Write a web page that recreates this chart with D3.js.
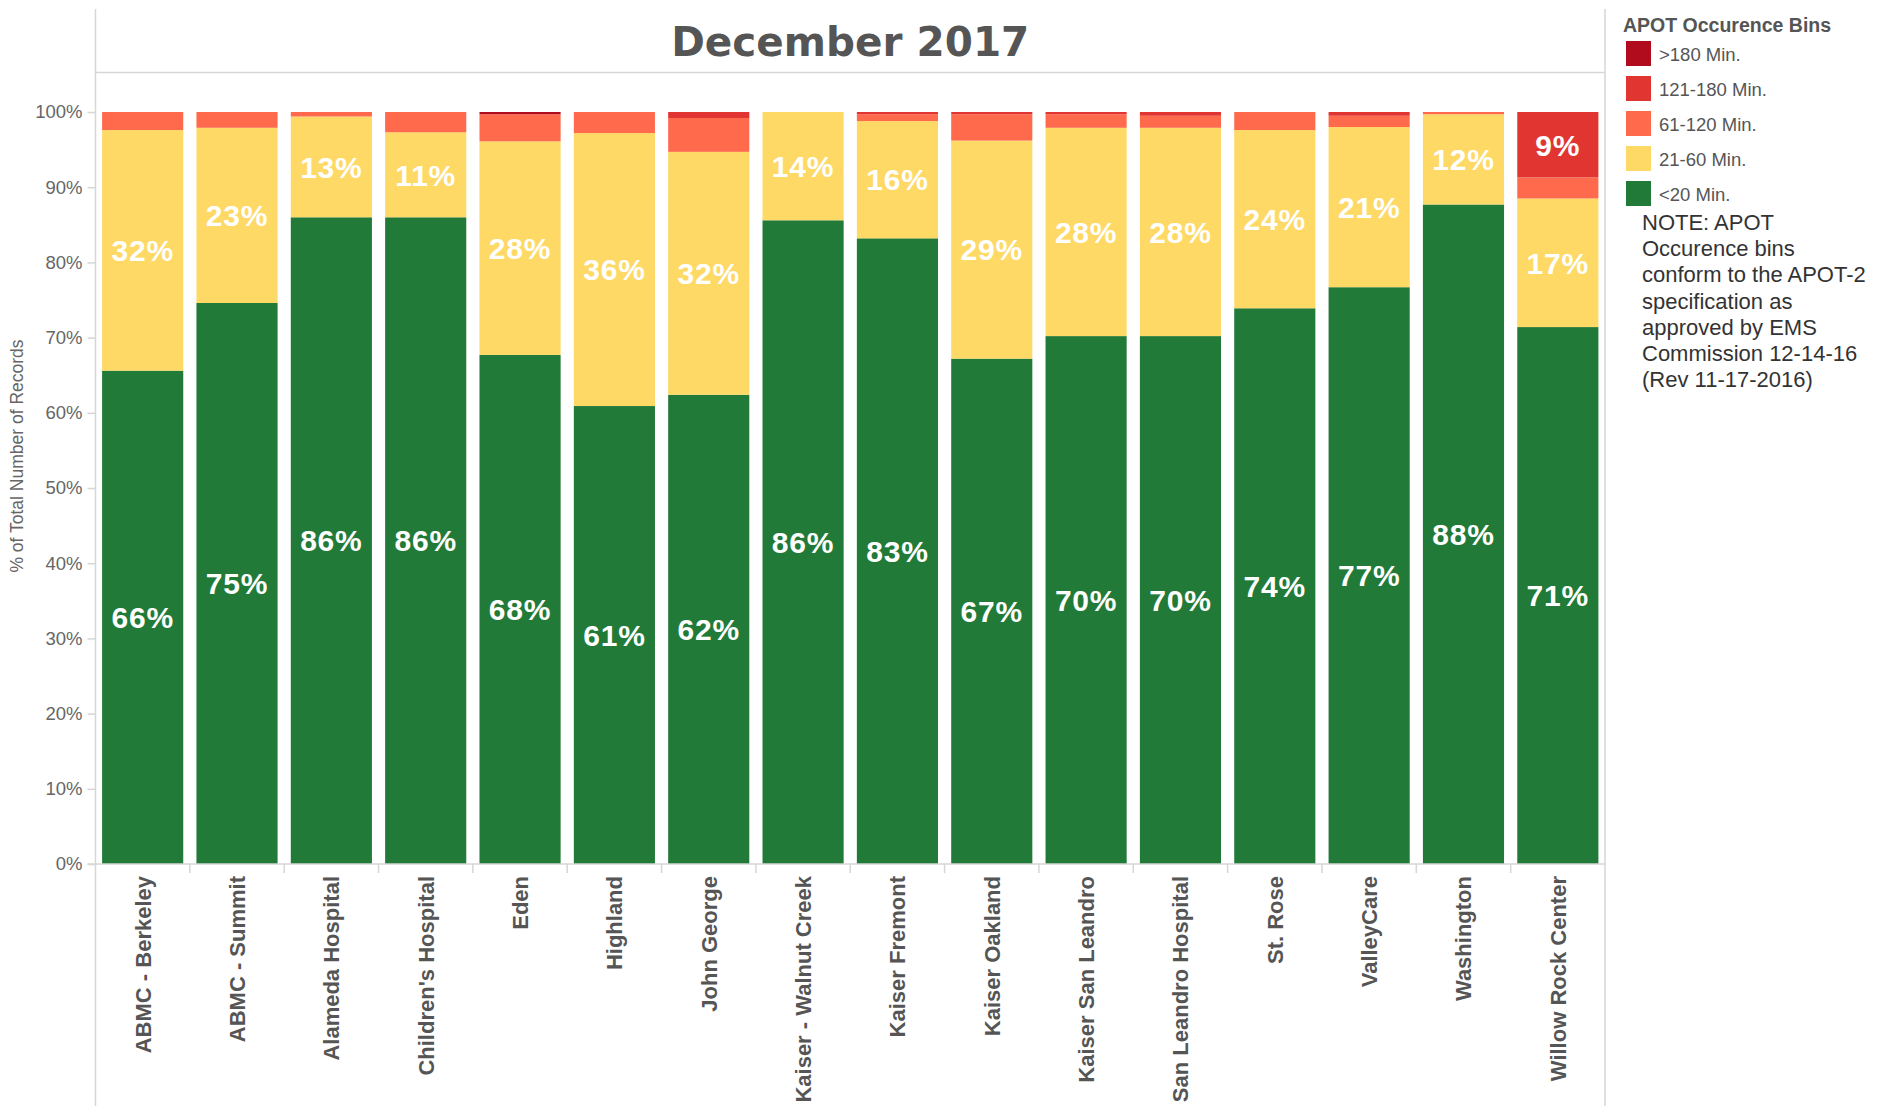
<!DOCTYPE html>
<html>
<head>
<meta charset="utf-8">
<script src="https://cdn.jsdelivr.net/npm/d3@7"></script>
<style>
  body { margin: 0; background: #fff; }
  svg { display: block; }
</style>
</head>
<body>
<svg id="chart"></svg>
<script>
// hospitals along the x axis
const hospitals = ["ABMC - Berkeley", "ABMC - Summit", "Alameda Hospital", "Children's Hospital",
  "Eden", "Highland", "John George", "Kaiser - Walnut Creek", "Kaiser Fremont", "Kaiser Oakland",
  "Kaiser San Leandro", "San Leandro Hospital", "St. Rose", "ValleyCare", "Washington", "Willow Rock Center"];

// APOT occurence bins, bottom to top
const bins = ["<20 Min.", "21-60 Min.", "61-120 Min.", "121-180 Min.", ">180 Min."];
const binColors = ["#217a37", "#fed966", "#ff6a4d", "#e03531", "#b10c1e"];

// % of total number of records per bin
const under20   = [65.6, 74.6, 86.0, 86.0, 67.7, 60.9, 62.4, 85.6, 83.2, 67.2, 70.2, 70.2, 73.9, 76.7, 87.7, 71.4];
const min21_60  = [32.0, 23.3, 13.4, 11.3, 28.4, 36.3, 32.3, 14.4, 15.6, 29.0, 27.7, 27.7, 23.7, 21.3, 12.0, 17.1];
const min61_120 = [2.4, 2.1, 0.6, 2.7, 3.6, 2.8, 4.5, 0, 0.9, 3.5, 1.8, 1.6, 2.4, 1.5, 0.3, 2.8];
const min121_180 = [0, 0, 0, 0, 0, 0, 0.8, 0, 0.3, 0.3, 0.3, 0.5, 0, 0.5, 0, 8.7];
const over180   = [0, 0, 0, 0, 0.3, 0, 0, 0, 0, 0, 0, 0, 0, 0, 0, 0];

const yTicks = [0, 10, 20, 30, 40, 50, 60, 70, 80, 90, 100];

const noteLines = ["NOTE: APOT", "Occurence bins", "conform to the APOT-2", "specification as",
  "approved by EMS", "Commission 12-14-16", "(Rev 11-17-2016)"];

const width = 1879;
const height = 1106;
const plotLeft = 95.5;
const plotRight = 1605;
const plotTop = 112;
const plotBottom = 864;
const lineColor = "#d6d6d6";

const seriesValues = [under20, min21_60, min61_120, min121_180, over180];
const rows = hospitals.map((h, i) => {
  const r = {hospital: h};
  bins.forEach((b, j) => r[b] = seriesValues[j][i]);
  return r;
});

const stacked = d3.stack().keys(bins)(rows);

const x = d3.scaleBand()
    .domain(hospitals)
    .range([plotLeft, plotRight])
    .paddingInner(0.14)
    .paddingOuter(0.07);

const y = d3.scaleLinear()
    .domain([0, 100])
    .range([plotBottom, plotTop]);

const color = d3.scaleOrdinal().domain(bins).range(binColors);

const svg = d3.select("#chart")
    .attr("width", width)
    .attr("height", height)
    .style("font-family", "'Liberation Sans', Arial, sans-serif");

// frame lines
svg.append("line")
    .attr("x1", plotLeft).attr("x2", plotLeft)
    .attr("y1", 9).attr("y2", height)
    .attr("stroke", lineColor).attr("stroke-width", 1.5);
svg.append("line")
    .attr("x1", plotRight).attr("x2", plotRight)
    .attr("y1", 9).attr("y2", height)
    .attr("stroke", lineColor).attr("stroke-width", 1.5);
svg.append("line")
    .attr("x1", plotLeft).attr("x2", plotRight)
    .attr("y1", 72.5).attr("y2", 72.5)
    .attr("stroke", lineColor).attr("stroke-width", 1.5);

// title
svg.append("text")
    .attr("x", (plotLeft + plotRight) / 2)
    .attr("y", 56)
    .attr("text-anchor", "middle")
    .style("font-family", "'DejaVu Sans', sans-serif")
    .style("font-weight", "bold")
    .style("font-size", "40.5px")
    .attr("fill", "#555")
    .text("December 2017");

// bars
const layer = svg.append("g")
  .selectAll("g")
  .data(stacked)
  .join("g")
    .attr("fill", d => color(d.key));

layer.selectAll("rect")
  .data(d => d)
  .join("rect")
    .attr("x", d => x(d.data.hospital))
    .attr("y", d => y(d[1]))
    .attr("width", x.bandwidth())
    .attr("height", d => y(d[0]) - y(d[1]));

// segment labels
layer.selectAll("text")
  .data(d => d.filter(s => s[1] - s[0] >= 5))
  .join("text")
    .attr("x", d => x(d.data.hospital) + x.bandwidth() / 2)
    .attr("y", d => y((d[0] + d[1]) / 2))
    .attr("dy", "0.36em")
    .attr("text-anchor", "middle")
    .attr("fill", "#fff")
    .style("font-weight", "bold")
    .style("font-size", "30px")
    .style("letter-spacing", "0.8px")
    .text(d => Math.round(d[1] - d[0]) + "%");

// y axis
const yAxis = svg.append("g")
    .attr("transform", `translate(${plotLeft},0)`)
    .call(d3.axisLeft(y).tickValues(yTicks).tickFormat(d => d + "%").tickSize(8).tickPadding(5));
yAxis.select(".domain").remove();
yAxis.selectAll(".tick line").attr("stroke", lineColor).attr("stroke-width", 1.5);
yAxis.selectAll(".tick text")
    .attr("fill", "#666")
    .style("font-size", "18.5px")
    .style("font-family", "'Liberation Sans', Arial, sans-serif");

svg.append("text")
    .attr("transform", `translate(23,456) rotate(-90)`)
    .attr("text-anchor", "middle")
    .attr("fill", "#666")
    .style("font-size", "17.5px")
    .text("% of Total Number of Records");

// x axis baseline and ticks between bands
svg.append("line")
    .attr("x1", plotLeft - 8).attr("x2", plotRight)
    .attr("y1", plotBottom).attr("y2", plotBottom)
    .attr("stroke", lineColor).attr("stroke-width", 1.5);

const gap = x.step() * x.paddingInner();
svg.append("g")
  .selectAll("line")
  .data(hospitals.slice(1))
  .join("line")
    .attr("x1", d => x(d) - gap / 2)
    .attr("x2", d => x(d) - gap / 2)
    .attr("y1", plotBottom)
    .attr("y2", plotBottom + 9)
    .attr("stroke", lineColor).attr("stroke-width", 1.5);

svg.append("g")
  .selectAll("text")
  .data(hospitals)
  .join("text")
    .attr("transform", d => `translate(${x(d) + x.bandwidth() / 2 + 8},876) rotate(-90)`)
    .attr("text-anchor", "end")
    .attr("fill", "#555")
    .style("font-weight", "bold")
    .style("font-size", "22px")
    .text(d => d);

// legend
const legend = svg.append("g").attr("transform", "translate(1623,0)");
legend.append("text")
    .attr("x", 0).attr("y", 32)
    .attr("fill", "#555")
    .style("font-weight", "bold")
    .style("font-size", "19.5px")
    .text("APOT Occurence Bins");

const legendItems = legend.selectAll("g.item")
  .data(bins.slice().reverse())
  .join("g")
    .attr("class", "item")
    .attr("transform", (d, i) => `translate(3,${41 + i * 35})`);
legendItems.append("rect")
    .attr("width", 25).attr("height", 25)
    .attr("fill", d => color(d));
legendItems.append("text")
    .attr("x", 33).attr("y", 20)
    .attr("fill", "#555")
    .style("font-size", "18.5px")
    .text(d => d);

legend.append("g")
  .selectAll("text")
  .data(noteLines)
  .join("text")
    .attr("x", 19)
    .attr("y", (d, i) => 230 + i * 26.2)
    .attr("fill", "#333")
    .style("font-size", "22px")
    .text(d => d);
</script>
</body>
</html>
